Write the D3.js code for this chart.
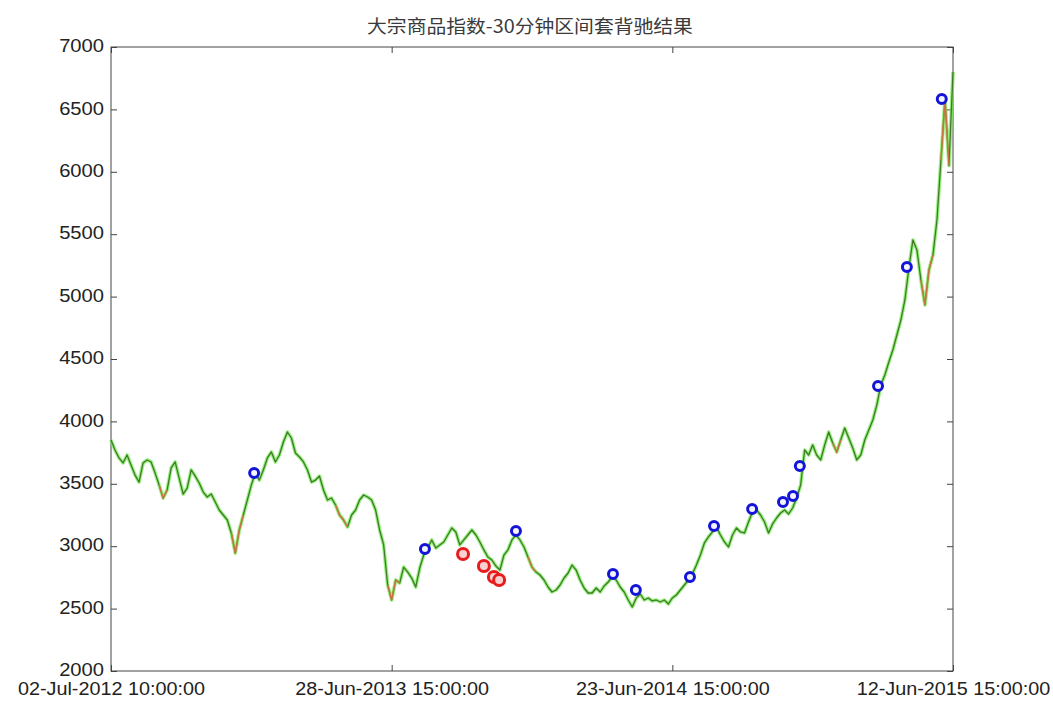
<!DOCTYPE html>
<html><head><meta charset="utf-8">
<script src="https://cdn.jsdelivr.net/npm/d3@7"></script>
<style>
html,body{margin:0;padding:0;background:#fff;}
svg{display:block;}
text{font-family:"Liberation Sans",Arial,sans-serif;fill:#222;}
</style></head><body>
<svg id="chart" width="1053" height="714"></svg>
<script>
// ---- data ----
const title = "大宗商品指数-30分钟区间套背驰结果";
const xTickIndex = [0, 70, 140, 210];
const xTickLabels = ["02-Jul-2012 10:00:00", "28-Jun-2013 15:00:00", "23-Jun-2014 15:00:00", "12-Jun-2015 15:00:00"];
const yTicks = [2000, 2500, 3000, 3500, 4000, 4500, 5000, 5500, 6000, 6500, 7000];
const price = [
 3851,3771,3707,3667,3731,3651,3570,3514,3667,3691,
 3675,3587,3490,3386,3450,3627,3675,3546,3418,3466,
 3611,3562,3506,3434,3394,3418,3354,3290,3250,3210,
 3106,2945,3130,3250,3370,3490,3587,3530,3611,3707,
 3755,3675,3731,3835,3915,3867,3747,3715,3675,3611,
 3514,3530,3562,3450,3370,3386,3330,3250,3210,3154,
 3250,3290,3370,3410,3394,3370,3290,3130,3010,2689,
 2569,2729,2705,2833,2793,2745,2673,2825,2929,2985,
 3050,2985,3010,3034,3090,3146,3114,3010,3050,3090,
 3130,3090,3034,2970,2913,2889,2841,2809,2929,2970,
 3050,3090,3050,2994,2913,2833,2793,2769,2729,2673,
 2633,2649,2689,2745,2785,2849,2809,2729,2665,2625,
 2625,2665,2633,2681,2713,2753,2729,2673,2633,2569,
 2513,2585,2617,2569,2585,2561,2569,2553,2569,2537,
 2585,2609,2649,2689,2729,2777,2849,2929,3026,3074,
 3114,3154,3090,3034,2994,3090,3146,3114,3106,3194,
 3274,3290,3250,3194,3106,3178,3226,3266,3290,3258,
 3306,3386,3490,3771,3731,3811,3731,3691,3811,3915,
 3827,3755,3851,3947,3867,3787,3691,3731,3851,3931,
 4011,4131,4292,4372,4476,4572,4692,4812,4973,5229,
 5454,5374,5133,4933,5213,5333,5614,6094,6580,6050,
 6800
];
// index ranges drawn in red
const redStart = [12, 30, 56, 69, 104, 180, 202, 207];
const redEnd   = [14, 33, 59, 72, 106, 182, 205, 209];
// blue signal markers (bar index, value)
const blueIdx = [35.7, 78.3, 101.0, 125.2, 130.9, 144.4, 150.4, 159.9, 167.6, 170.1, 171.8, 191.3, 198.5, 207.2];
const blueVal = [3587, 2977, 3122, 2777, 2649, 2753, 3162, 3298, 3354, 3402, 3643, 4284, 5237, 6583];
// red signal markers
const redIdx = [87.8, 93.0, 95.5, 96.8];
const redVal = [2937, 2841, 2753, 2729];

// ---- chart ----
const svg = d3.select("#chart");
const L = 111, R = 953, T = 47, B = 671;
const x = d3.scaleLinear().domain([0, 210]).range([L, R]);
const y = d3.scaleLinear().domain([2000, 7000]).range([B, T]);

function stretch(sel, f) {
  sel.each(function () {
    const w = this.getComputedTextLength();
    if (w > 0) d3.select(this).attr("textLength", w * f).attr("lengthAdjust", "spacingAndGlyphs");
  });
}

svg.append("text").attr("x", 530).attr("y", 33).attr("text-anchor", "middle")
  .style("font-family", '"Noto Sans CJK SC", sans-serif').style("font-size", "18px").style("fill", "#3a3a3a")
  .text(title).call(stretch, 1.1);

const axisStyle = g => {
  g.selectAll(".domain").remove();
  g.selectAll(".tick line").attr("stroke", "#444");
  g.selectAll("text").style("font-size", "18px").style("fill", "#222")
   .style("font-family", '"Liberation Sans", Arial, sans-serif');
};

svg.append("g").attr("transform", `translate(${L},0)`)
  .call(d3.axisLeft(y).tickValues(yTicks).tickSizeInner(-6).tickSizeOuter(0).tickPadding(7).tickFormat(d3.format("d")))
  .call(axisStyle)
  .call(g => g.selectAll("text").attr("dy", "0.26em").call(stretch, 1.12));
svg.append("g").attr("transform", `translate(${R},0)`)
  .call(d3.axisRight(y).tickValues(yTicks).tickSizeInner(-6).tickSizeOuter(0).tickFormat(""))
  .call(axisStyle);
svg.append("g").attr("transform", `translate(0,${B})`)
  .call(d3.axisBottom(x).tickValues(xTickIndex).tickSizeInner(-6).tickSizeOuter(0).tickPadding(11)
    .tickFormat((d, i) => xTickLabels[i]))
  .call(axisStyle)
  .call(g => g.selectAll("text").call(stretch, 1.10));
svg.append("g").attr("transform", `translate(0,${T})`)
  .call(d3.axisTop(x).tickValues(xTickIndex).tickSizeInner(-6).tickSizeOuter(0).tickFormat(""))
  .call(axisStyle);

svg.append("rect").attr("x", L).attr("y", T).attr("width", R - L).attr("height", B - T)
  .attr("fill", "none").attr("stroke", "#444").attr("stroke-width", 1);

const line = d3.line().x(d => x(d[0])).y(d => y(d[1]));
const pts = price.map((v, i) => [i, v]);

svg.append("path").attr("d", line(pts)).attr("fill", "none")
  .attr("stroke", "#72ec52").attr("stroke-width", 3.6).attr("stroke-linejoin", "round").attr("opacity", 0.75);
svg.append("path").attr("d", line(pts)).attr("fill", "none")
  .attr("stroke", "#42782a").attr("stroke-width", 1.3).attr("stroke-linejoin", "round");

redStart.forEach((s, k) => {
  const seg = pts.slice(s, redEnd[k] + 1);
  svg.append("path").attr("d", line(seg)).attr("fill", "none")
    .attr("stroke", "#e8704a").attr("stroke-width", 1.6).attr("opacity", 0.8);
});

svg.selectAll("circle.blue").data(blueIdx).enter().append("circle")
  .attr("class", "blue")
  .attr("cx", d => x(d)).attr("cy", (d, i) => y(blueVal[i])).attr("r", 4.5)
  .attr("fill", "#f4f4ff").attr("stroke", "#1414d8").attr("stroke-width", 3);

svg.selectAll("circle.red").data(redIdx).enter().append("circle")
  .attr("class", "red")
  .attr("cx", d => x(d)).attr("cy", (d, i) => y(redVal[i])).attr("r", 5.5)
  .attr("fill", "#fbd0d0").attr("stroke", "#e81c1c").attr("stroke-width", 3);
</script>
</body></html>
